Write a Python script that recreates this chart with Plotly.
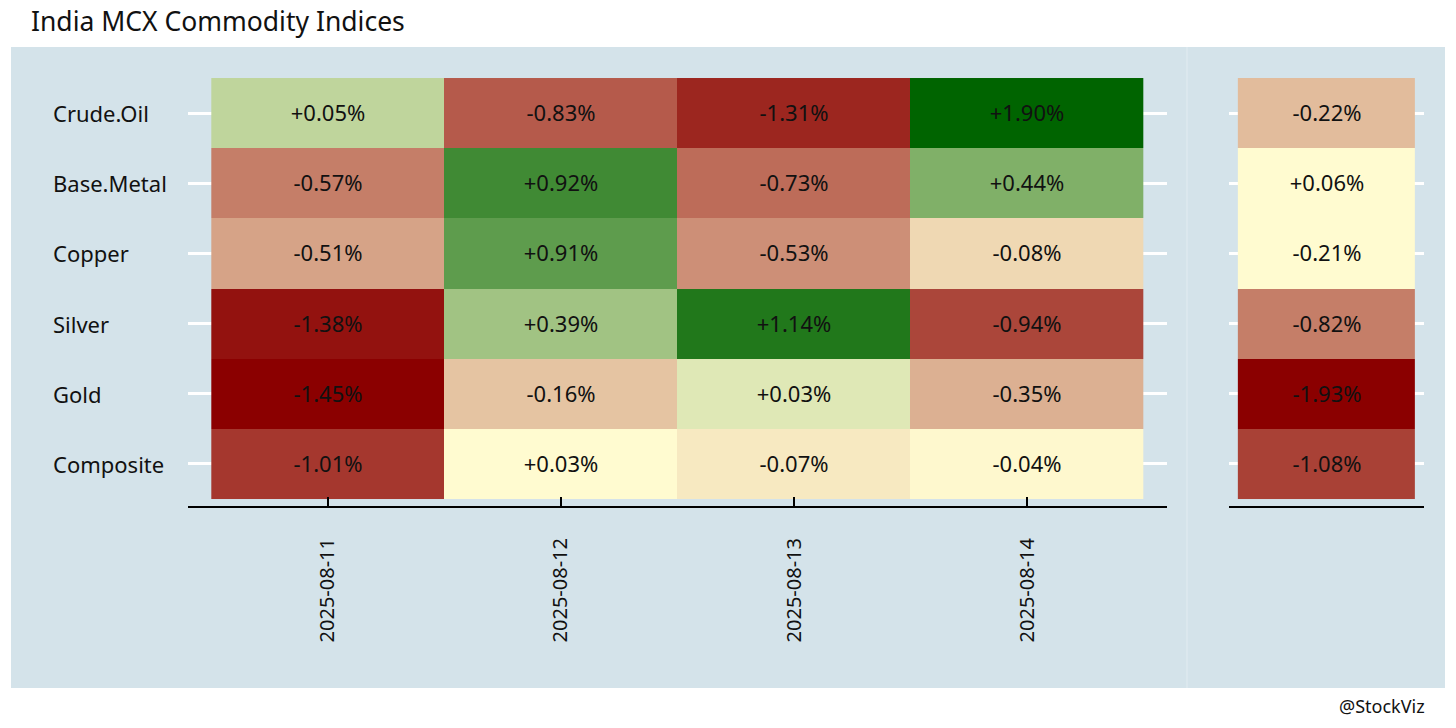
import plotly.graph_objects as go

# ---- data ----
assets = ["Crude.Oil", "Base.Metal", "Copper", "Silver", "Gold", "Composite"]
dates = ["2025-08-11", "2025-08-12", "2025-08-13", "2025-08-14"]
# daily returns (%) per asset, one list per date
ret_0811 = [0.05, -0.57, -0.51, -1.38, -1.45, -1.01]
ret_0812 = [-0.83, 0.92, 0.91, 0.39, -0.16, 0.03]
ret_0813 = [-1.31, -0.73, -0.53, 1.14, 0.03, -0.07]
ret_0814 = [1.90, 0.44, -0.08, -0.94, -0.35, -0.04]
# fill intensity (-1 red .. +1 green)
fill_0811 = [0.25, -0.50, -0.35, -0.93, -1.00, -0.78]
fill_0812 = [-0.64, 0.75, 0.63, 0.37, -0.22, 0.00]
fill_0813 = [-0.85, -0.57, -0.43, 0.87, 0.125, -0.07]
fill_0814 = [1.00, 0.50, -0.14, -0.72, -0.30, -0.01]
# whole-period column
period = ["Total"]
ret_period = [-0.22, 0.06, -0.21, -0.82, -1.93, -1.08]
fill_period = [-0.25, 0.00, 0.00, -0.50, -1.00, -0.74]

W, H = 1456, 728
def px(x):
    return x / W
def py(y):
    return (H - y) / H

FONT = "Noto Sans"
colorscale = [[0.0, "#8b0000"], [0.5, "#fffbd0"], [1.0, "#006400"]]
fmt = lambda v: f"{v:+.2f}%"

rets = [ret_0811, ret_0812, ret_0813, ret_0814]
fills = [fill_0811, fill_0812, fill_0813, fill_0814]
z_main = [[fills[j][i] for j in range(len(dates))] for i in range(len(assets))]
t_main = [[fmt(rets[j][i]) for j in range(len(dates))] for i in range(len(assets))]
z_side = [[fill_period[i]] for i in range(len(assets))]
t_side = [[fmt(ret_period[i])] for i in range(len(assets))]

fig = go.Figure()
fig.add_trace(go.Heatmap(
    x=dates, y=assets, z=z_main, text=t_main, texttemplate="%{text}",
    textfont=dict(family=FONT, size=22, color="#111111"),
    colorscale=colorscale, zmin=-1, zmax=1, showscale=False,
    xaxis="x", yaxis="y", hoverinfo="skip"))
fig.add_trace(go.Heatmap(
    x=period, y=assets, z=z_side, text=t_side, texttemplate="%{text}",
    textfont=dict(family=FONT, size=22, color="#111111"),
    colorscale=colorscale, zmin=-1, zmax=1, showscale=False,
    xaxis="x2", yaxis="y2", hoverinfo="skip"))

panel = "#d4e3ea"
yaxis_common = dict(
    type="category", categoryorder="array", categoryarray=assets[::-1],
    range=[-0.6, 5.6], domain=[py(506), py(71)],
    showgrid=True, gridcolor="white", gridwidth=3, zeroline=False,
    showline=False, showticklabels=False, ticks="", automargin=False, fixedrange=True)

fig.update_layout(
    width=W, height=H,
    margin=dict(l=0, r=0, t=0, b=0),
    paper_bgcolor="white", plot_bgcolor=panel,
    font=dict(family=FONT, color="#111111"),
    showlegend=False,
    xaxis=dict(type="category", domain=[px(188), px(1167)], range=[-0.6, 3.6],
               showgrid=False, zeroline=False, showline=True, linecolor="black", linewidth=2,
               ticks="inside", ticklen=9, tickwidth=2, tickcolor="black",
               tickangle=-90, ticklabelstandoff=22,
               tickfont=dict(family=FONT, size=20, color="#111111"),
               automargin=False, anchor="y"),
    yaxis=dict(anchor="x", **yaxis_common),
    xaxis2=dict(type="category", domain=[px(1229), px(1424)], range=[-0.55, 0.55],
                showgrid=False, zeroline=False, showline=True, linecolor="black", linewidth=2,
                ticks="", showticklabels=False, automargin=False, anchor="y2"),
    yaxis2=dict(anchor="x2", **yaxis_common),
)

# panel background and divider
fig.add_shape(type="rect", xref="paper", yref="paper", x0=px(11), x1=px(1445), y0=py(688), y1=py(47),
              fillcolor=panel, line=dict(width=0), layer="below")
fig.add_shape(type="line", xref="paper", yref="paper", x0=px(1187), x1=px(1187), y0=py(688), y1=py(47),
              line=dict(color="#e2ecf1", width=1), layer="below")

# left-aligned row labels
for a in assets:
    fig.add_annotation(x=px(51), xref="paper", y=a, yref="y", text=a, showarrow=False,
                       xanchor="left", yanchor="middle",
                       font=dict(family=FONT, size=22, color="#111111"))

fig.add_annotation(x=px(29), xref="paper", y=py(21), yref="paper", text="India MCX Commodity Indices",
                   showarrow=False, xanchor="left", yanchor="middle",
                   font=dict(family=FONT, size=26.5, color="#111111"))
fig.add_annotation(x=px(1427), xref="paper", y=py(706), yref="paper", text="@StockViz",
                   showarrow=False, xanchor="right", yanchor="middle",
                   font=dict(family=FONT, size=18, color="#111111"))

fig.write_html("out.html", config={"displayModeBar": False},
               post_script="document.body.style.margin='0';")
